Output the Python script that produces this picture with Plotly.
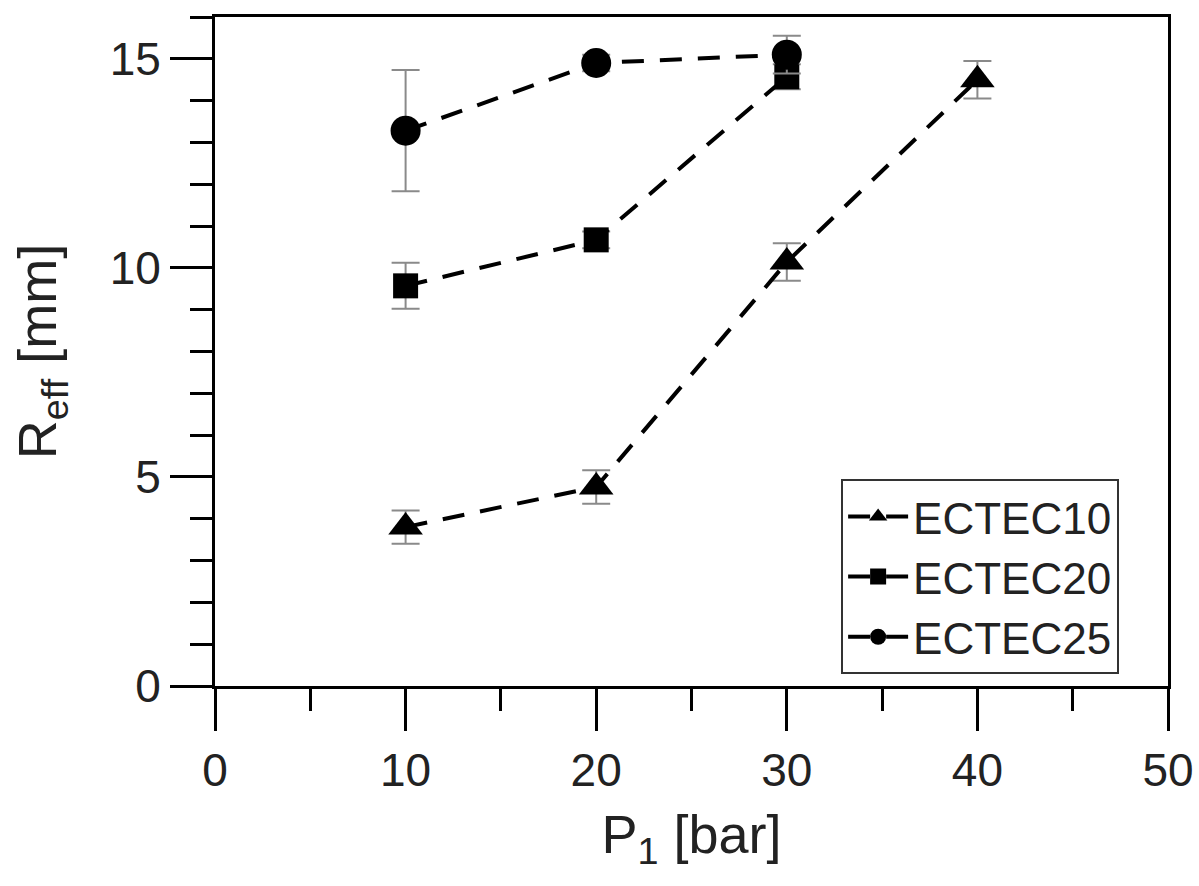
import plotly.graph_objects as go

P1 = [10, 20, 30, 40]
ectec10 = [3.8, 4.76, 10.14, 14.5]
ectec10_err = [0.4, 0.4, 0.45, 0.45]
P1_b = [10, 20, 30]
ectec20 = [9.57, 10.67, 14.57]
ectec20_err = [0.55, 0.2, 0.3]
ectec25 = [13.28, 14.9, 15.1]
ectec25_err = [1.45, 0.2, 0.45]

FONT = "Liberation Sans, Arial, sans-serif"
dash = "22px,16px"

fig = go.Figure()

def add(name, x, y, err, symbol, size):
    fig.add_trace(go.Scatter(
        x=x, y=y, name=name, mode="lines+markers",
        line=dict(color="black", width=4, dash=dash),
        marker=dict(symbol=symbol, size=size, color="black"),
        error_y=dict(type="data", array=err, visible=True, color="#8a8a8a", thickness=2, width=14),
    ))

add("ECTEC10", P1, ectec10, ectec10_err, "triangle-up", 30)
add("ECTEC20", P1_b, ectec20, ectec20_err, "square", 25)
add("ECTEC25", P1_b, ectec25, ectec25_err, "circle", 30)

axis_common = dict(
    showline=True, linecolor="black", linewidth=3, mirror=True,
    ticks="outside", ticklen=42, tickwidth=3, tickcolor="black",
    showgrid=False, zeroline=False, automargin=False,
    tickfont=dict(family=FONT, size=46, color="#222"),
)

fig.update_xaxes(
    range=[0, 50], tickvals=[0, 10, 20, 30, 40, 50],
    minor=dict(ticks="outside", ticklen=22, tickwidth=3, tickcolor="black", dtick=5, tick0=0),
    title=dict(text="P<sub>1</sub> [bar]", font=dict(family=FONT, size=54, color="#222"), standoff=20),
    **axis_common,
)
fig.update_yaxes(
    range=[0, 16], tickvals=[0, 5, 10, 15],
    minor=dict(ticks="outside", ticklen=22, tickwidth=3, tickcolor="black", dtick=1, tick0=0),
    title=dict(text="R<sub>eff</sub> [mm]", font=dict(family=FONT, size=54, color="#222"), standoff=36),
    **axis_common,
)

fig.update_layout(
    width=1199, height=886,
    margin=dict(l=215, r=31, t=17, b=200),
    plot_bgcolor="white", paper_bgcolor="white",
    font=dict(family=FONT, color="#222"),
    legend=dict(
        x=0.657, y=0.309, xanchor="left", yanchor="top",
        bgcolor="white", bordercolor="#333", borderwidth=2,
        font=dict(family=FONT, size=44, color="#222"),
        itemwidth=60, tracegroupgap=0,
    ),
)

fig.write_html("out.html")
